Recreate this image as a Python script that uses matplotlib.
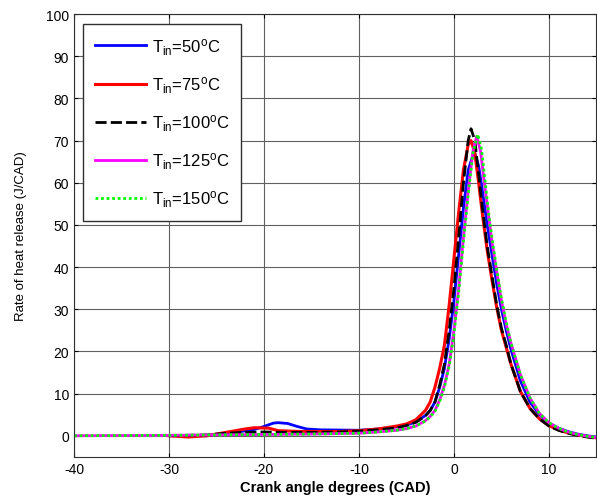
import numpy as np
import matplotlib
matplotlib.use('Agg')
from matplotlib import pyplot as plt

plt.rcParams.update({
    'font.family': ['Liberation Sans', 'DejaVu Sans'],
    'mathtext.fontset': 'custom',
    'mathtext.rm': 'Liberation Sans',
    'mathtext.it': 'Liberation Sans:italic',
    'axes.unicode_minus': False,
    'xtick.direction': 'in',
    'ytick.direction': 'in',
    'xtick.top': True,
    'ytick.right': True,
    'xtick.major.size': 3,
    'ytick.major.size': 3,
    'xtick.labelsize': 10,
    'ytick.labelsize': 10,
})

# T_in = 50 C
x50 = [-30, -26, -25, -23, -21, -20, -19, -18.5, -17.5, -16.5, -15.5, -14, -10, -8, -6, -5, -4, -3,
       -2.5, -2, -1.5, -1, -0.5, 0, 0.5, 1, 1.5, 2, 2.2, 2.6, 3, 3.5, 4, 4.5, 5, 5.5, 6, 7, 8, 9,
       10, 11, 12, 13, 14, 15]
y50 = [0, 0, 0.3, 0.8, 1.5, 2.2, 3.0, 3.1, 2.9, 2.2, 1.6, 1.4, 1.3, 1.6, 2.1, 2.5, 3.3, 4.8,
       6, 8, 11.5, 16, 23, 32, 43, 54, 63, 66.5, 67, 64, 58, 50, 43, 36, 30, 25, 20.5, 13, 8, 5,
       3, 1.8, 1.0, 0.4, 0, -0.3]

# T_in = 75 C
x75 = [-30, -28, -26, -24, -22, -21, -19.5, -18.5, -16, -12, -10, -8, -6, -5, -4, -3, -2.5, -2,
       -1.5, -1, -0.5, 0, 0.5, 1, 1.5, 1.8, 2.2, 2.6, 3, 3.5, 4, 4.5, 5, 5.5, 6, 7, 8, 9, 10, 11,
       12, 13, 14, 15]
y75 = [0, -0.3, 0, 0.8, 1.6, 1.9, 1.8, 1.2, 1.0, 1.0, 1.2, 1.6, 2.3, 2.8, 3.8, 6, 8, 11.5,
       16, 21.5, 31, 42, 53, 63, 69, 70, 67, 60, 52.5, 44, 37, 30.5, 25, 21, 17, 10.5, 6.5, 4, 2.4,
       1.4, 0.7, 0.2, -0.2, -0.5]

# T_in = 100 C
x100 = [-30, -26, -24, -22, -20, -18, -15, -12, -10, -8, -6, -5, -4, -3, -2.5, -2, -1.5, -1,
        -0.5, 0, 0.5, 1, 1.5, 1.8, 2.2, 2.6, 3, 3.5, 4, 4.5, 5, 5.5, 6, 7, 8, 9, 10, 11, 12, 13,
        14, 15]
y100 = [0, 0.2, 0.6, 0.8, 0.9, 0.8, 0.8, 0.9, 1.1, 1.4, 1.9, 2.4, 3.2, 4.7, 6, 8, 12, 17,
        25, 35, 47, 60, 70, 72.8, 70, 62, 54, 45, 38, 31, 25.5, 21.5, 17, 10.5, 6.5, 4, 2.3, 1.3,
        0.6, 0.1, -0.3, -0.6]

# T_in = 125 C
x125 = [-40, -30, -25, -20, -15, -10, -8, -6, -5, -4, -3, -2.5, -2, -1.5, -1, -0.5, 0, 0.5, 1,
        1.5, 2, 2.4, 2.8, 3.2, 3.6, 4, 4.5, 5, 5.5, 6, 7, 8, 9, 10, 11, 12, 13, 14, 15]
y125 = [0, 0.1, 0.2, 0.3, 0.4, 0.6, 0.9, 1.3, 1.7, 2.3, 3.6, 4.6, 6.0, 8.5, 12, 17, 25, 35, 47,
        58, 67.5, 71, 67.5, 60, 53, 46, 39, 32, 26.5, 22, 14.5, 9, 5.3, 3.1, 1.8, 0.9, 0.3, -0.1,
        -0.4]

# T_in = 150 C
x150 = [-40, -30, -25, -20, -15, -10, -8, -6, -5, -4, -3, -2.5, -2, -1.5, -1, -0.5, 0, 0.5, 1,
        1.5, 2, 2.5, 2.9, 3.3, 3.7, 4, 4.5, 5, 5.5, 6, 7, 8, 9, 10, 11, 12, 13, 14, 15]
y150 = [0, 0.1, 0.2, 0.3, 0.4, 0.6, 0.9, 1.3, 1.7, 2.3, 3.5, 4.5, 5.8, 8.2, 11.5, 16.5, 24, 34,
        46, 57, 67, 71.5, 68, 60, 52, 47, 39.5, 32.5, 27, 22, 14.5, 9, 5.3, 3.1, 1.8, 0.9, 0.3,
        -0.1, -0.4]

labels = [r'T$_{\rm in}$=50$^{\rm o}$C', r'T$_{\rm in}$=75$^{\rm o}$C',
          r'T$_{\rm in}$=100$^{\rm o}$C', r'T$_{\rm in}$=125$^{\rm o}$C',
          r'T$_{\rm in}$=150$^{\rm o}$C']

fig = plt.figure(figsize=(5.97, 5.02), dpi=100)
ax = fig.add_axes((0.124, 0.088, 0.875, 0.882))

ax.plot(x50, y50, color='#0000ff', lw=2.0, label=labels[0])
ax.plot(x75, y75, color='#ff0000', lw=2.2, label=labels[1])
ax.plot(x100, y100, color='black', lw=2.0, ls=(0, (4, 1.5)), label=labels[2])
ax.plot(x125, y125, color='#ff00ff', lw=2.0, label=labels[3])
ax.plot(x150, y150, color='#00ff00', lw=2.0, ls=(0, (1, 1)), label=labels[4])

ax.set_xlim(-40, 15)
ax.set_ylim(-5, 100)
ax.set_xticks(np.arange(-40, 11, 10))
ax.set_yticks(np.arange(0, 101, 10))
ax.grid(True, color='#606060', lw=0.8)
for s in ax.spines.values():
    s.set_color('#303030')

ax.set_xlabel('Crank angle degrees (CAD)', fontsize=10.5, fontweight='bold', labelpad=3)
ax.set_ylabel('Rate of heat release (J/CAD)', fontsize=9.5, labelpad=14)

leg = ax.legend(loc='upper left', bbox_to_anchor=(0.017, 0.977), borderaxespad=0,
                fontsize=12, handlelength=3.1, labelspacing=1.05, borderpad=0.7,
                fancybox=False, framealpha=1, edgecolor='#303030', handletextpad=0.35)
leg.get_frame().set_linewidth(1.0)

plt.savefig('out.png')
